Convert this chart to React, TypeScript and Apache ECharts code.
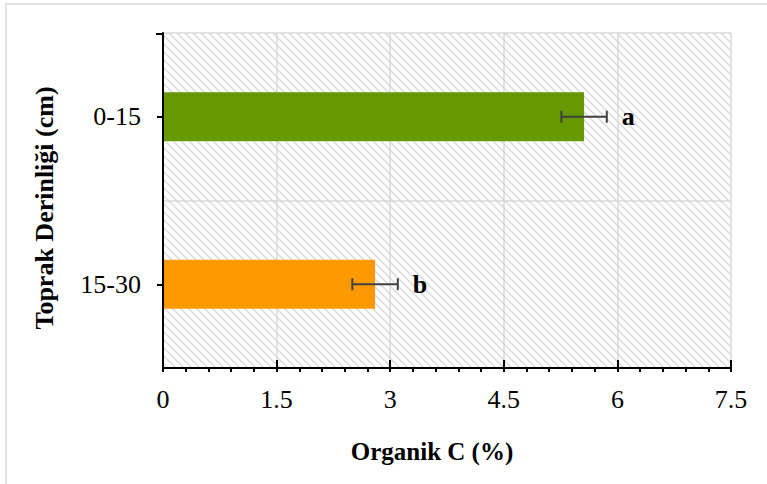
import React, { useEffect, useRef } from "react";
import * as echarts from "echarts";

const categories = ["0-15", "15-30"];
const values = [5.56, 2.8];
const errors = [0.3, 0.3];
const letters = ["a", "b"];
const barColors = ["#669900", "#FF9900"];
const xTickLabels = ["0", "1.5", "3", "4.5", "6", "7.5"];
const xMin = 0;
const xMax = 7.5;
const xInterval = 1.5;

const FONT = "'Liberation Serif', 'Times New Roman', serif";

function makeHatch(): HTMLCanvasElement {
  const s = 8;
  const c = document.createElement("canvas");
  c.width = s;
  c.height = s;
  const ctx = c.getContext("2d")!;
  ctx.fillStyle = "#ffffff";
  ctx.fillRect(0, 0, s, s);
  ctx.strokeStyle = "#dedede";
  ctx.lineWidth = 1.6;
  ctx.beginPath();
  ctx.moveTo(-2, -2);
  ctx.lineTo(s + 2, s + 2);
  ctx.moveTo(-2, s - 2);
  ctx.lineTo(2, s + 2);
  ctx.moveTo(s - 2, -2);
  ctx.lineTo(s + 2, 2);
  ctx.stroke();
  return c;
}

export default function App() {
  const ref = useRef<HTMLDivElement>(null);

  useEffect(() => {
    if (!ref.current) return;
    const chart = echarts.init(ref.current, null, { renderer: "svg" });
    const hatch = makeHatch();

    const errData = categories.map((c, i) => [i, values[i] - errors[i], values[i] + errors[i], letters[i]]);

    const option: any = {
      animation: false,
      backgroundColor: "#ffffff",
      grid: {
        left: 163,
        right: 36,
        top: 33,
        bottom: 116,
        show: true,
        borderWidth: 0,
        backgroundColor: { image: hatch, repeat: "repeat" },
      },
      xAxis: [
        {
          type: "value",
          min: xMin,
          max: xMax,
          interval: xInterval,
          axisLine: { show: true, lineStyle: { color: "#000", width: 2 } },
          axisTick: { show: true, inside: true, length: 8, lineStyle: { color: "#000", width: 2 } },
          axisLabel: {
            show: true,
            margin: 18,
            color: "#000",
            fontFamily: FONT,
            fontSize: 26,
            formatter: (v: number) => {
              const idx = Math.round((v - xMin) / xInterval);
              return xTickLabels[idx] ?? String(v);
            },
          },
          splitLine: { show: true, lineStyle: { color: "#d9d9d9", width: 1.5 } },
        },
        {
          type: "value",
          min: xMin,
          max: xMax,
          interval: xInterval,
          position: "bottom",
          axisLine: { show: false },
          axisTick: { show: true, inside: false, length: 4, lineStyle: { color: "#000", width: 2 } },
          minorTick: { show: true, splitNumber: 5, length: 4, lineStyle: { color: "#000", width: 2 } },
          axisLabel: { show: false },
          splitLine: { show: false },
        },
      ],
      yAxis: {
        type: "category",
        data: categories,
        inverse: true,
        boundaryGap: true,
        axisLine: { show: true, lineStyle: { color: "#000", width: 2 } },
        axisTick: { show: true, alignWithLabel: true, length: 6, lineStyle: { color: "#000", width: 2 } },
        axisLabel: { margin: 22, color: "#000", fontFamily: FONT, fontSize: 26 },
        splitLine: { show: true, lineStyle: { color: "#d9d9d9", width: 1.5 } },
      },
      series: [
        {
          type: "bar",
          data: values.map((v, i) => ({ value: v, itemStyle: { color: barColors[i] } })),
          barWidth: 49,
          z: 2,
        },
        {
          type: "custom",
          data: errData,
          z: 3,
          renderItem: (params: any, api: any) => {
            const cat = api.value(0);
            const lo = api.coord([api.value(1), cat]);
            const hi = api.coord([api.value(2), cat]);
            const y = lo[1];
            const h = 6;
            const style = { stroke: "#404040", lineWidth: 2 };
            return {
              type: "group",
              children: [
                { type: "line", shape: { x1: lo[0], y1: y, x2: hi[0], y2: y }, style },
                { type: "line", shape: { x1: lo[0], y1: y - h, x2: lo[0], y2: y + h }, style },
                { type: "line", shape: { x1: hi[0], y1: y - h, x2: hi[0], y2: y + h }, style },
                {
                  type: "text",
                  x: hi[0] + 15,
                  y: y,
                  style: {
                    text: letters[params.dataIndex],
                    fill: "#000",
                    font: `bold 26px ${FONT}`,
                    verticalAlign: "middle",
                    align: "left",
                  },
                },
              ],
            };
          },
        },
      ],
      graphic: [
        {
          type: "rect",
          shape: { x: 6, y: 4, width: 800, height: 520 },
          style: { fill: "none", stroke: "#d9d9d9", lineWidth: 1.5 },
          silent: true,
          z: -10,
        },
        {
          type: "line",
          shape: { x1: 156, y1: 34, x2: 163, y2: 34 },
          style: { stroke: "#000", lineWidth: 2 },
          z: 10,
        },
        {
          type: "line",
          shape: { x1: 163, y1: 33, x2: 163, y2: 368 },
          style: { stroke: "#000", lineWidth: 2 },
          z: 10,
        },
        {
          type: "text",
          x: 432,
          y: 451,
          style: {
            text: "Organik C (%)",
            fill: "#000",
            font: `bold 25px ${FONT}`,
            align: "center",
            verticalAlign: "middle",
          },
        },
        {
          type: "text",
          x: 44,
          y: 208,
          rotation: Math.PI / 2,
          style: {
            text: "Toprak Derinliği (cm)",
            fill: "#000",
            font: `bold 26px ${FONT}`,
            align: "center",
            verticalAlign: "middle",
          },
        },
      ],
    };

    chart.setOption(option);
    return () => chart.dispose();
  }, []);

  return (
    <div
      ref={ref}
      style={{ position: "absolute", left: 0, top: 0, width: 767, height: 484 }}
    />
  );
}
